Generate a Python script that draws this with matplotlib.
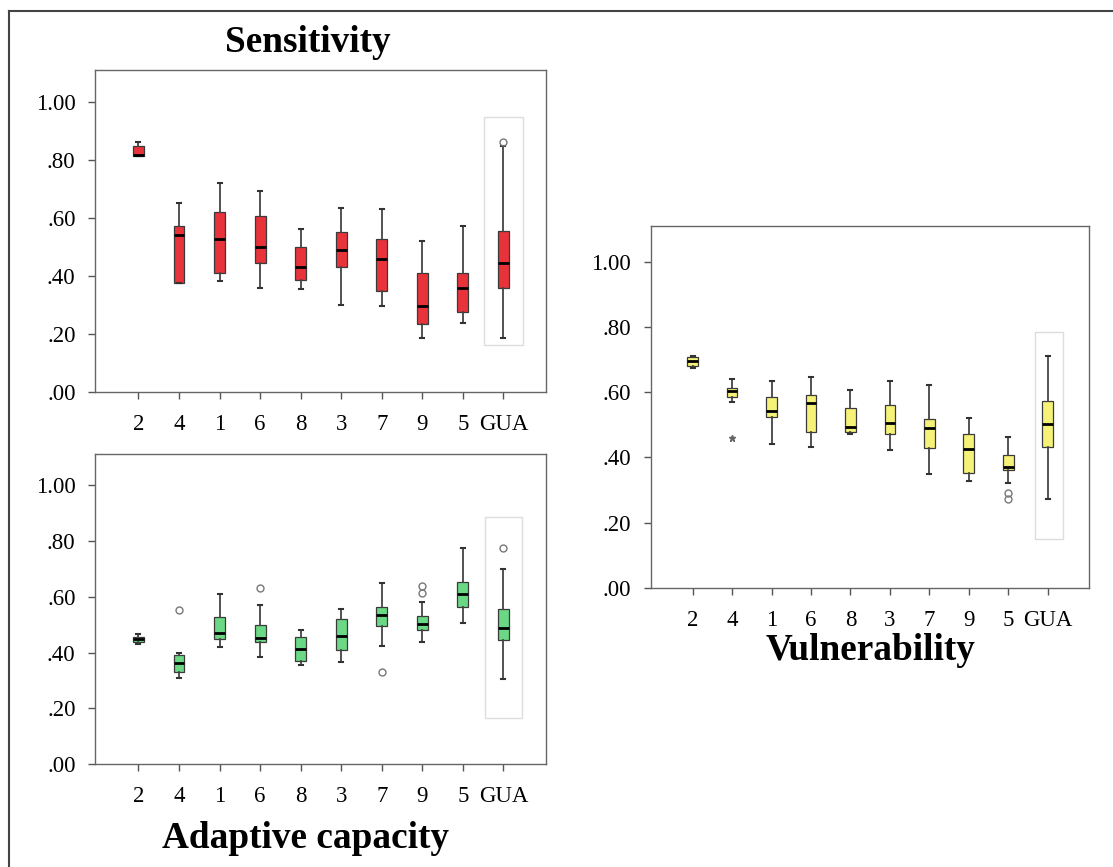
import matplotlib
matplotlib.use("Agg")
from matplotlib import pyplot as plt
from matplotlib.patches import Rectangle
from matplotlib.lines import Line2D

plt.rcParams["font.family"] = ["Liberation Serif", "DejaVu Serif"]

groups = ['2', '4', '1', '6', '8', '3', '7', '9', '5', 'GUA']

# Sensitivity (whisker low, q1, median, q3, whisker high)
sens_lo = [0.813, 0.374, 0.384, 0.359, 0.356, 0.299, 0.295, 0.187, 0.238, 0.187]
sens_q1 = [0.813, 0.374, 0.410, 0.443, 0.387, 0.431, 0.349, 0.236, 0.277, 0.359]
sens_med = [0.817, 0.540, 0.526, 0.500, 0.430, 0.491, 0.457, 0.295, 0.360, 0.443]
sens_q3 = [0.847, 0.571, 0.620, 0.608, 0.500, 0.553, 0.529, 0.410, 0.410, 0.555]
sens_hi = [0.861, 0.652, 0.720, 0.692, 0.563, 0.633, 0.630, 0.520, 0.572, 0.849]
sens_out = [[], [], [], [], [], [], [], [], [], [0.861]]

# Adaptive capacity
adap_lo = [0.430, 0.308, 0.419, 0.385, 0.356, 0.365, 0.425, 0.436, 0.506, 0.307]
adap_q1 = [0.439, 0.329, 0.450, 0.436, 0.371, 0.408, 0.495, 0.482, 0.564, 0.446]
adap_med = [0.449, 0.362, 0.469, 0.452, 0.413, 0.461, 0.536, 0.501, 0.611, 0.489]
adap_q3 = [0.457, 0.390, 0.526, 0.500, 0.457, 0.520, 0.563, 0.530, 0.652, 0.555]
adap_hi = [0.467, 0.399, 0.610, 0.569, 0.479, 0.557, 0.648, 0.582, 0.776, 0.699]
adap_out = [[], [0.553], [], [0.631], [], [], [0.329], [0.638, 0.613], [], [0.776]]

# Vulnerability
vuln_lo = [0.673, 0.571, 0.442, 0.431, 0.471, 0.422, 0.348, 0.327, 0.321, 0.272]
vuln_q1 = [0.679, 0.586, 0.524, 0.477, 0.478, 0.471, 0.428, 0.353, 0.361, 0.432]
vuln_med = [0.695, 0.602, 0.543, 0.567, 0.493, 0.506, 0.491, 0.426, 0.370, 0.501]
vuln_q3 = [0.709, 0.611, 0.586, 0.591, 0.552, 0.561, 0.517, 0.470, 0.407, 0.572]
vuln_hi = [0.710, 0.639, 0.634, 0.646, 0.605, 0.635, 0.621, 0.519, 0.462, 0.710]
vuln_out = [[], [], [], [], [], [], [], [], [0.291, 0.271], []]
vuln_star = [[], [0.458], [], [], [], [], [], [], [], []]

yticks = [0.0, 0.2, 0.4, 0.6, 0.8, 1.0]
ylabels = ['.00', '.20', '.40', '.60', '.80', '1.00']


def make_stats(lo, q1, med, q3, hi, out):
    stats = []
    for i in range(len(groups)):
        stats.append(dict(whislo=lo[i], q1=q1[i], med=med[i], q3=q3[i],
                          whishi=hi[i], fliers=out[i], label=groups[i]))
    return stats


def draw_panel(ax, stats, color, ylim_top, xlim, rect, star=None):
    pos = list(range(len(groups)))
    ax.bxp(stats, positions=pos, widths=0.27, patch_artist=True,
           showfliers=True, capwidths=0.1,
           boxprops=dict(facecolor=color, edgecolor='#3a3a3a', linewidth=0.9),
           medianprops=dict(color='black', linewidth=2.0),
           whiskerprops=dict(color='#444444', linewidth=1.3),
           capprops=dict(color='#333333', linewidth=1.5),
           flierprops=dict(marker='o', markersize=5, markerfacecolor='none',
                           markeredgecolor='#777777', markeredgewidth=1.0))
    if star is not None:
        for i, vals in enumerate(star):
            for v in vals:
                ax.plot(i, v, marker='*', color='#666666', markersize=5, linestyle='none')
    ax.add_patch(Rectangle((rect[0], rect[1]), rect[2] - rect[0], rect[3] - rect[1],
                           fill=False, edgecolor='#dddddd', linewidth=1.0))
    ax.set_xlim(*xlim)
    ax.set_ylim(0, ylim_top)
    ax.set_yticks(yticks)
    ax.set_yticklabels(ylabels, fontsize=16.5)
    ax.set_xticks(pos)
    ax.set_xticklabels(groups, fontsize=16.5)
    for sp in ax.spines.values():
        sp.set_color('#666666')
        sp.set_linewidth(1.0)
    ax.tick_params(axis='y', direction='out', length=5, width=1.0, color='#555555', pad=9)
    ax.tick_params(axis='x', direction='out', length=5, width=1.0, color='#555555', pad=11)


fig = plt.figure(figsize=(11.13, 8.67), dpi=100)

ax1 = fig.add_axes([0.0854, 0.5479, 0.4052, 0.3714])
draw_panel(ax1, make_stats(sens_lo, sens_q1, sens_med, sens_q3, sens_hi, sens_out),
           '#e8333a', 1.11, (-1.07, 10.05), (8.51, 0.161, 9.48, 0.948))

ax2 = fig.add_axes([0.0854, 0.1185, 0.4052, 0.3579])
draw_panel(ax2, make_stats(adap_lo, adap_q1, adap_med, adap_q3, adap_hi, adap_out),
           '#6ad884', 1.111, (-1.07, 10.05), (8.55, 0.166, 9.45, 0.887))

ax3 = fig.add_axes([0.5846, 0.3221, 0.3941, 0.4175])
draw_panel(ax3, make_stats(vuln_lo, vuln_q1, vuln_med, vuln_q3, vuln_hi, vuln_out),
           '#f6f177', 1.110, (-1.065, 10.055), (8.67, 0.148, 9.38, 0.785), star=vuln_star)

fig.text(308 / 1113, 1 - 42 / 867, 'Sensitivity', ha='center', va='center',
         fontsize=26.8, fontweight='bold')
fig.text(306 / 1113, 1 - 838 / 867, 'Adaptive capacity', ha='center', va='center',
         fontsize=26.8, fontweight='bold')
fig.text(871 / 1113, 1 - 650 / 867, 'Vulnerability', ha='center', va='center',
         fontsize=26.8, fontweight='bold')

# outer frame (top and left edges)
fig.add_artist(Line2D([9 / 1113, 1.0], [1 - 11 / 867, 1 - 11 / 867], color='#444444', linewidth=1.5))
fig.add_artist(Line2D([9 / 1113, 9 / 1113], [0.0, 1 - 11 / 867], color='#444444', linewidth=1.5))

plt.savefig("out.png", dpi=100)
